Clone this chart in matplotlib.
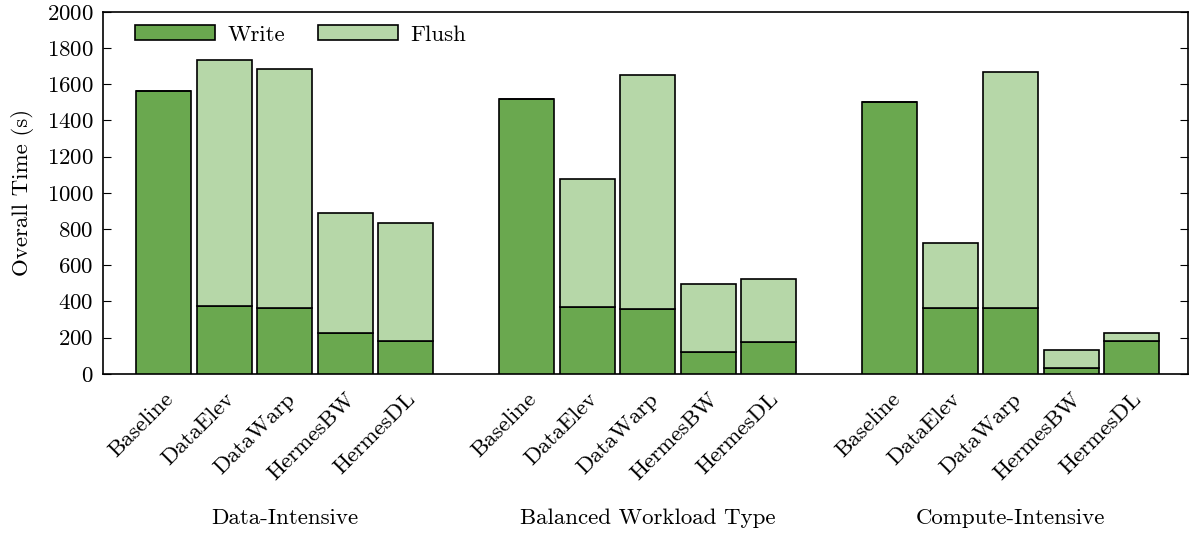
import matplotlib
matplotlib.use("Agg")
import numpy as np
import matplotlib.pyplot as plt

plt.rcParams["font.family"] = ["cmr10", "DejaVu Serif"]
plt.rcParams["axes.formatter.use_mathtext"] = True

groups = ["Data-Intensive", "Balanced Workload Type", "Compute-Intensive"]
systems = ["Baseline", "DataElev", "DataWarp", "HermesBW", "HermesDL"]

# overall time split into write and flush (s), per group
write = [
    [1560, 376, 365, 226, 182],
    [1519, 370, 359, 122, 177],
    [1503, 365, 365, 33, 182],
]
total = [
    [1560, 1735, 1685, 890, 834],
    [1519, 1077, 1652, 497, 525],
    [1503, 724, 1669, 133, 227],
]

write_color = "#6aa84f"
flush_color = "#b6d7a8"
fs = 16.5

fig, ax = plt.subplots(figsize=(11.99, 5.34), dpi=100)
fig.subplots_adjust(left=0.086, right=0.991, top=0.978, bottom=0.30)

pos, labels = [], []
for g in range(len(groups)):
    for s in range(len(systems)):
        pos.append(g * 6 + s)
        labels.append(systems[s])
pos = np.array(pos)
w = np.concatenate(write)
t = np.concatenate(total)
flush = t - w

width = 0.91
ax.bar(pos, w, width, color=write_color, edgecolor="black", linewidth=1.2,
       label="Write", zorder=3)
ax.bar(pos, flush, width, bottom=w, color=flush_color, edgecolor="black",
       linewidth=1.2, label="Flush", zorder=3)

ax.set_xlim(-1.0, 16.93)
ax.set_ylim(0, 2000)
ax.set_yticks(range(0, 2001, 200))
ax.tick_params(axis="y", direction="in", right=True, labelsize=fs, length=6,
               pad=7)
ax.set_xticks(pos)
ax.set_xticklabels(labels, rotation=45, ha="right", rotation_mode="anchor",
                   fontsize=fs)
ax.tick_params(axis="x", length=0, pad=11)
ax.set_ylabel("Overall Time (s)", fontsize=fs, labelpad=9)
for sp in ax.spines.values():
    sp.set_linewidth(1.2)

for g, name in enumerate(groups):
    ax.text(g * 6 + 2, -0.40, name, transform=ax.get_xaxis_transform(),
            ha="center", va="center", fontsize=fs)

ax.legend(loc="upper left", ncol=2, frameon=False, fontsize=fs,
          handlelength=3.5, handleheight=0.6, columnspacing=1.4,
          handletextpad=0.55, bbox_to_anchor=(0.0085, 1.026),
          borderaxespad=0.6)

fig.savefig("out.png", dpi=100)
